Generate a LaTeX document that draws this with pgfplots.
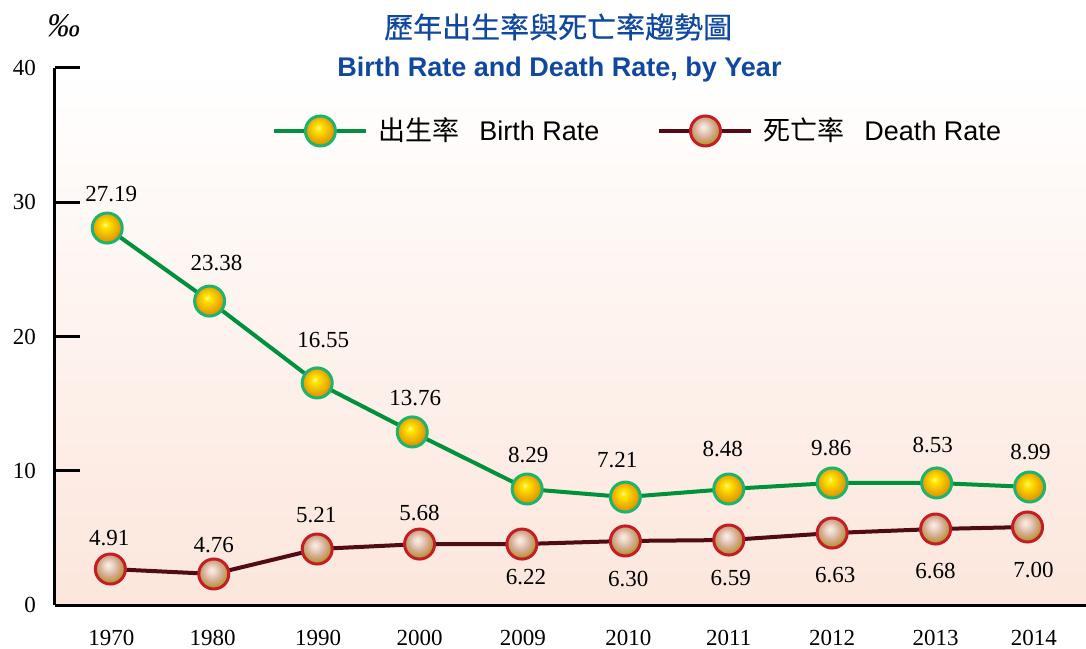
\documentclass[border=0pt]{standalone}
\usepackage{fontspec}
\setmainfont{Liberation Serif}
\newfontfamily\cjk{Noto Sans CJK TC}
\newfontfamily\cjkb[FakeBold=0.5]{Noto Sans CJK TC}
\newfontfamily\sansf{Liberation Sans}
\usepackage{pgfplots}
\pgfplotsset{compat=1.18}
\usepackage{pgfplotstable}

\definecolor{titleblue}{RGB}{16,72,160}
\definecolor{lineG}{RGB}{0,145,60}
\definecolor{ringG}{RGB}{30,180,110}
\definecolor{lineR}{RGB}{80,12,18}
\definecolor{ringR}{RGB}{195,30,40}
\definecolor{bgpink}{RGB}{252,230,220}
\definecolor{gY}{RGB}{255,232,0}
\definecolor{gG}{RGB}{242,188,0}
\definecolor{gO}{RGB}{222,150,0}
\definecolor{tW}{RGB}{250,238,228}
\definecolor{tT}{RGB}{212,172,148}
\definecolor{tO}{RGB}{186,150,50}

\pgfdeclareradialshading{goldball}{\pgfqpoint{-4bp}{6bp}}{color(0bp)=(gY!35!white); color(5bp)=(gY); color(15bp)=(gG); color(25bp)=(gO); color(50bp)=(gO)}
\pgfdeclareradialshading{tanball}{\pgfqpoint{-4bp}{7bp}}{color(0bp)=(tW); color(6bp)=(tW!70!tT); color(16bp)=(tT); color(25bp)=(tO); color(50bp)=(tO)}
\pgfdeclareplotmark{goldball}{\pgfpathcircle{\pgfpointorigin}{\pgfplotmarksize}\pgfshadepath{goldball}{0}\pgfusepath{stroke}}
\pgfdeclareplotmark{tanball}{\pgfpathcircle{\pgfpointorigin}{\pgfplotmarksize}\pgfshadepath{tanball}{0}\pgfusepath{stroke}}

\pgfplotstableread{
x y lab dx dy
-0.03 28.08 27.19 4 34
0.95 22.64 23.38 7 38
1.98 16.54 16.55 6 43
2.89 12.89 13.76 3 34
3.99 8.64 8.29 1 34
4.93 8.04 7.21 -8 37
5.92 8.64 8.48 -6 40
6.91 9.09 9.86 -1 35
7.91 9.09 8.53 -4 38
8.80 8.79 8.99 1 35
}\birth

\pgfplotstableread{
x y lab dx dy
0.00 2.68 4.91 -1 31
0.99 2.31 4.76 0 29
1.98 4.17 5.21 -1 34
2.96 4.54 5.68 0 31
3.94 4.54 6.22 4 -33
4.93 4.77 6.30 3 -38
5.92 4.84 6.59 2 -38
6.91 5.36 6.63 3 -42
7.90 5.66 6.68 0 -42
8.78 5.81 7.00 6 -43
}\death

\begin{document}
\begin{tikzpicture}
\useasboundingbox (-27.5pt,-21.5pt) rectangle (515.5pt,302.5pt);
\begin{axis}[
  at={(0,0)}, anchor=south west,
  scale only axis, width=515.5pt, height=268.5pt,
  xmin=-0.53, xmax=9.34, ymin=0, ymax=40,
  clip=false,
  axis x line*=bottom, axis y line*=left,
  axis line style={-, line width=1.5pt, black},
  axis background/.style={shade, top color=white, bottom color=bgpink},
  ytick={0,10,20,30,40},
  ytick style={line width=1.5pt, black},
  tick align=inside,
  major tick length=12.5pt,
  yticklabel style={xshift=-6pt},
  xtick={0.01,0.98,1.99,2.96,3.95,4.96,5.92,6.91,7.90,8.84},
  xticklabels={1970,1980,1990,2000,2009,2010,2011,2012,2013,2014},
  xtick style={draw=none},
  xticklabel style={yshift=-9pt},
  extra x ticks={0.46,1.46,2.46,3.46,4.46,5.45,6.45,7.46,8.46},
  extra x tick labels={},
  extra x tick style={major tick length=4.5pt, tick style={draw=black, line width=1pt}},
  tick label style={font=\fontsize{11.5}{13}\selectfont},
  /pgf/number format/assume math mode=true,
  nodes near coords,
  point meta=explicit symbolic,
  visualization depends on={\thisrow{dx} \as \ldx},
  visualization depends on={\thisrow{dy} \as \ldy},
  every node near coord/.append style={anchor=center, xshift=0.5*\ldx pt, yshift=0.5*\ldy pt, font=\fontsize{11.5}{13}\selectfont, text=black},
  legend columns=2,
  legend style={at={(axis description cs:0.2105,0.8827)}, anchor=west, draw=none, fill=none, inner sep=0pt,
    font=\sansf\fontsize{13.5}{15}\selectfont,
    /tikz/every odd column/.append style={column sep=3pt},
    /tikz/every even column/.append style={column sep=27pt}},
  legend image code/.code={\draw[mark repeat=2,mark phase=2,#1] plot coordinates {(0pt,0pt) (23pt,0pt) (46pt,0pt)};},
]
\addplot[color=lineG, line width=2pt, mark=goldball, mark size=7.5pt, mark options={draw=ringG, line width=1.5pt}]
  table[x=x, y=y, meta=lab] {\birth};
\addlegendentry{{\cjk 出生率}\hspace{10pt}Birth Rate}
\addplot[color=lineR, line width=2pt, mark=tanball, mark size=7.5pt, mark options={draw=ringR, line width=1.5pt}]
  table[x=x, y=y, meta=lab] {\death};
\addlegendentry{{\cjk 死亡率}\hspace{10pt}Death Rate}

\node[font=\itshape\fontsize{16.5}{18}\selectfont] at (axis description cs:0.0087,1.078) {‰};
\node[font=\cjkb\fontsize{14.5}{16}\selectfont, text=titleblue] at (axis description cs:0.488,1.0764) {歷年出生率與死亡率趨勢圖};
\node[font=\sansf\bfseries\fontsize{13.5}{15}\selectfont, text=titleblue] at (axis description cs:0.4893,0.9963) {Birth Rate and Death Rate, by Year};
\end{axis}
\end{tikzpicture}
\end{document}
